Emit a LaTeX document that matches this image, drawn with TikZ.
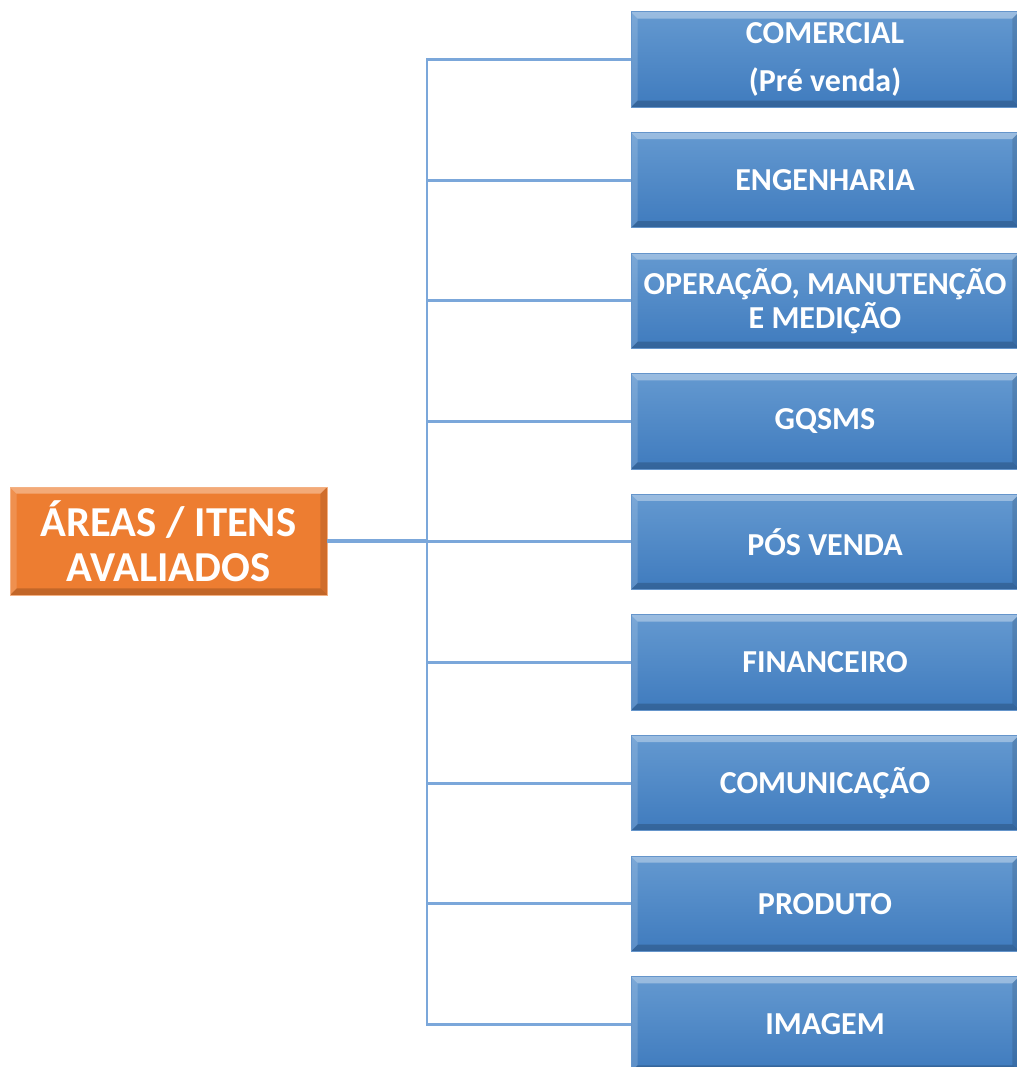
\documentclass[tikz,border=0pt]{standalone}
\usepackage{fontspec}
\setmainfont{Carlito}
\usepackage{tikz}
\usetikzlibrary{calc,positioning}

\definecolor{bluetop}{HTML}{6499D0}
\definecolor{bluebot}{HTML}{3F7BBE}
\definecolor{areaorange}{HTML}{ED7D31}
\definecolor{linkblue}{HTML}{7BA7DA}

\tikzset{
  bevel/.style={path picture={
      \fill[white,opacity=.35] (path picture bounding box.north west) -- (path picture bounding box.north east)
        -- ([xshift=-#1,yshift=-#1]path picture bounding box.north east) -- ([xshift=#1,yshift=-#1]path picture bounding box.north west) -- cycle;
      \fill[white,opacity=.15] (path picture bounding box.north west) -- ([xshift=#1,yshift=-#1]path picture bounding box.north west)
        -- ([xshift=#1,yshift=#1]path picture bounding box.south west) -- (path picture bounding box.south west) -- cycle;
      \fill[black,opacity=.12] (path picture bounding box.north east) -- ([xshift=-#1,yshift=-#1]path picture bounding box.north east)
        -- ([xshift=-#1,yshift=#1]path picture bounding box.south east) -- (path picture bounding box.south east) -- cycle;
      \fill[black,opacity=.18] (path picture bounding box.south west) -- ([xshift=#1,yshift=#1]path picture bounding box.south west)
        -- ([xshift=-#1,yshift=#1]path picture bounding box.south east) -- (path picture bounding box.south east) -- cycle;
  }},
  itembox/.style={rectangle,minimum width=291pt,minimum height=71.5pt,inner sep=0pt,
    top color=bluetop,bottom color=bluebot,draw=bluebot!80!white,line width=.6pt,bevel=5pt,
    text=white,align=center,font=\fontsize{24}{25.5}\selectfont\bfseries},
  areabox/.style={rectangle,minimum width=237.75pt,minimum height=81pt,inner sep=0pt,
    fill=areaorange,draw=areaorange!60!white,line width=.6pt,bevel=5pt,
    text=white,align=center,font=\fontsize{32}{34}\selectfont\bfseries},
  link/.style={draw=linkblue,line width=2.2pt},
  mainlink/.style={draw=linkblue,line width=3pt}
}

\begin{document}
\begin{tikzpicture}[x=0.75pt,y=-0.75pt,>=stealth]
      \useasboundingbox (0,0) rectangle (1017,1067);
      \clip (0,0) rectangle (1017,1067);
      \def\boxx{825}
      \def\firsty{59.5}
      \def\pitch{120.6}
      \coordinate (hub) at (427,541);
      \node [areabox] (areas) at (168.5,541) {ÁREAS / ITENS\\AVALIADOS};
      \draw [mainlink] (areas.east) -- (hub);
      \foreach \name/\txt [count=\i from 0] in {comercial/{COMERCIAL\\[10pt](Pré venda)},
          engenharia/ENGENHARIA,
          operacao/{OPERAÇÃO, MANUTENÇÃO\\E MEDIÇÃO},
          gqsms/GQSMS,
          posvenda/PÓS VENDA,
          financeiro/FINANCEIRO,
          comunicacao/COMUNICAÇÃO,
          produto/PRODUTO,
          imagem/IMAGEM}{
        \node [itembox] (\name) at (\boxx,\firsty+\i*\pitch) {\txt};
        \draw [link] (hub) |- (\name.west);
      }
    \end{tikzpicture}
\end{document}
